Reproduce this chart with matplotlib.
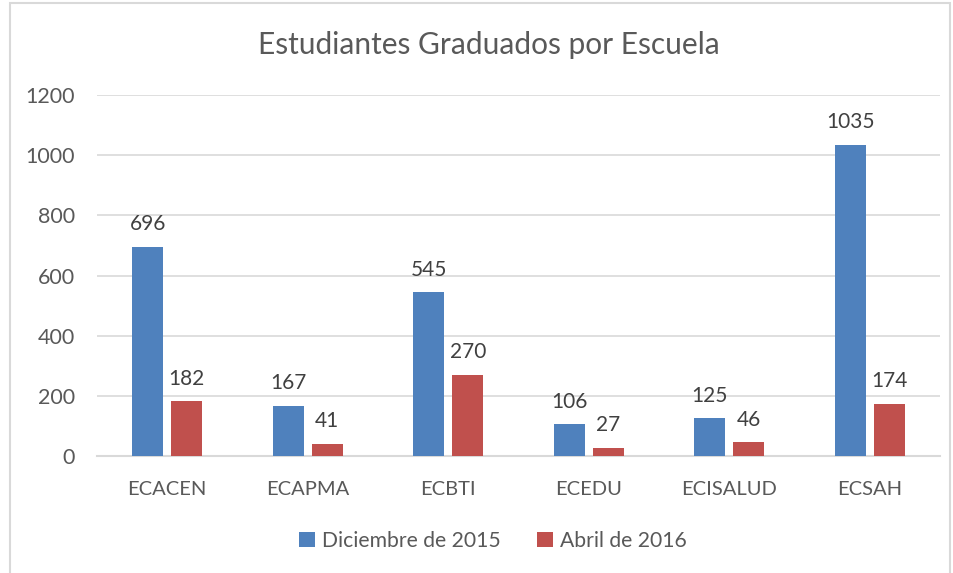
import matplotlib
matplotlib.use("Agg")
import matplotlib.pyplot as plt
import numpy as np
from matplotlib.patches import Rectangle

categories = ["ECACEN", "ECAPMA", "ECBTI", "ECEDU", "ECISALUD", "ECSAH"]
dic2015 = [696, 167, 545, 106, 125, 1035]
abr2016 = [182, 41, 270, 27, 46, 174]
series_names = ["Diciembre de 2015", "Abril de 2016"]
yticks = [0, 200, 400, 600, 800, 1000, 1200]

plt.rcParams['font.family'] = ['Lato', 'DejaVu Sans']
txt = '#595959'
blue = '#4F81BD'
red = '#C0504D'

fig = plt.figure(figsize=(9.54, 5.73), dpi=100)
ax = fig.add_axes([97/954, 1-456/573, (940-97)/954, (456-95)/573])

x = np.arange(len(categories))
w = 0.22
gap = 0.057
off = (w + gap) / 2
b1 = ax.bar(x - off, dic2015, w, color=blue, label=series_names[0], zorder=3)
b2 = ax.bar(x + off, abr2016, w, color=red, label=series_names[1], zorder=3)
for bars in (b1, b2):
    ax.bar_label(bars, padding=9, fontsize=15, color='#404040')

ax.set_xlim(-0.5, len(categories) - 0.5)
ax.set_ylim(0, 1200)
ax.set_yticks(yticks)
ax.set_xticks(x)
ax.set_xticklabels(categories)
ax.tick_params(axis='y', length=0, labelsize=15.5, colors=txt, pad=16)
ax.tick_params(axis='x', length=0, labelsize=14.5, colors=txt, pad=18)
ax.grid(axis='y', color='#D9D9D9', linewidth=1.2, zorder=0)
for s in ['top', 'right', 'left']:
    ax.spines[s].set_visible(False)
ax.spines['bottom'].set_color('#D9D9D9')
ax.spines['bottom'].set_linewidth(1.5)

fig.text(489/954, 1-45/573, "Estudiantes Graduados por Escuela", ha='center', va='center',
         fontsize=21.5, color=txt)

leg = fig.legend(loc='center', bbox_to_anchor=(493/954, 1-541/573), ncol=2, frameon=False,
                 fontsize=15.2, handlelength=0.75, handleheight=0.75, handletextpad=0.35,
                 columnspacing=1.7, labelcolor=txt)

fig.patches.append(Rectangle((10/954, -0.01), (950-10)/954, 1-3/573+0.01, transform=fig.transFigure,
                             fill=False, edgecolor='#D9D9D9', linewidth=1.5))

fig.savefig("out.png", dpi=100)
